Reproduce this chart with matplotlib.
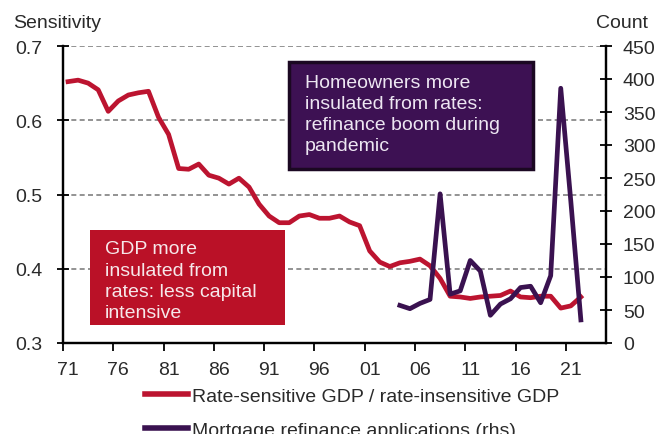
import matplotlib
matplotlib.use("Agg")
import matplotlib.pyplot as plt
import numpy as np

plt.rcParams['font.family'] = ['Liberation Sans', 'DejaVu Sans']

# Rate-sensitive GDP / rate-insensitive GDP (lhs), annual 1971-2022
gdp_years = list(range(1971, 2023))
gdp_ratio = [0.652, 0.654, 0.650, 0.641, 0.612, 0.626, 0.634, 0.637, 0.639, 0.604,
             0.581, 0.535, 0.534, 0.541, 0.526, 0.522, 0.514, 0.522, 0.510, 0.487,
             0.471, 0.462, 0.462, 0.471, 0.473, 0.468, 0.468, 0.471, 0.463, 0.458,
             0.424, 0.409, 0.403, 0.408, 0.410, 0.413, 0.404, 0.387, 0.363, 0.362,
             0.360, 0.362, 0.363, 0.364, 0.370, 0.362, 0.361, 0.363, 0.363, 0.347,
             0.350, 0.362]

# Mortgage refinance applications (rhs), annual 2004-2022
refi_years = list(range(2004, 2023))
refi_count = [57, 52, 60, 66, 226, 74, 79, 125, 109, 42, 59, 67, 84, 86, 61, 102,
              386, 215, 35]

tick_labels = ['71', '76', '81', '86', '91', '96', '01', '06', '11', '16', '21']
tick_years = [1971, 1976, 1981, 1986, 1991, 1996, 2001, 2006, 2011, 2016, 2021]

RED = '#BC1430'
PURPLE = '#3A1250'
TXT = '#2a2a2a'
FS = 14

fig = plt.figure(figsize=(6.68, 4.35), dpi=100)
ax = fig.add_axes([63 / 668, 1 - 344 / 435, (606 - 63) / 668, (344 - 47) / 435])
ax2 = ax.twinx()

ax.plot(gdp_years, gdp_ratio, color=RED, lw=3.4, solid_joinstyle='round', zorder=3)
ax2.plot(refi_years, refi_count, color=PURPLE, lw=3.4, solid_joinstyle='round', zorder=3)

ax.set_xlim(1970.5, 2024.5)
ax.set_ylim(0.3, 0.7)
ax2.set_ylim(0, 450)
ax.set_yticks([0.3, 0.4, 0.5, 0.6, 0.7])
ax.set_yticklabels(['0.3', '0.4', '0.5', '0.6', '0.7'])
ax2.set_yticks(range(0, 451, 50))

# category-style x axis: tick marks on band edges, labels on band centres
ax.set_xticks([y - 0.5 for y in tick_years])
ax.set_xticklabels([])
ax.set_xticks(tick_years, minor=True)
ax.set_xticklabels(tick_labels, minor=True)
ax.tick_params(axis='x', which='major', length=6, width=1.3, color='black', direction='out')
ax.tick_params(axis='x', which='minor', length=0, labelsize=FS, pad=13, labelcolor=TXT)
ax.tick_params(axis='y', length=8, width=1.3, direction='inout', labelsize=FS, pad=11,
               labelcolor=TXT)
ax2.tick_params(axis='y', length=8, width=1.3, direction='inout', labelsize=FS, pad=8.2,
                labelcolor=TXT)

ax.yaxis.grid(True, linestyle=(0, (3, 2)), color='#808080', lw=1.2)
ax.set_axisbelow(True)
for a in (ax, ax2):
    a.spines['top'].set_visible(False)
    for s in ('left', 'right', 'bottom'):
        a.spines[s].set_linewidth(1.6)
        a.spines[s].set_color('black')

fig.text(13 / 668, 1 - 23 / 435, 'Sensitivity', fontsize=14, va='center', ha='left',
         color=TXT)
fig.text(648 / 668, 1 - 23 / 435, 'Count', fontsize=14, va='center', ha='right',
         color=TXT)

# annotation boxes
box_p = matplotlib.patches.Rectangle((289 / 668, 1 - 170 / 435), (533 - 289) / 668,
                                     (170 - 63) / 435, transform=fig.transFigure,
                                     facecolor='#3D1153', edgecolor='#1B0822', lw=2.5,
                                     zorder=5)
fig.add_artist(box_p)
fig.text(305 / 668, 1 - 75 / 435,
         'Homeowners more\ninsulated from rates:\nrefinance boom during\npandemic',
         fontsize=FS, color='#EDE6F2', va='top', ha='left', linespacing=1.32, zorder=6)

box_r = matplotlib.patches.Rectangle((90 / 668, 1 - 326 / 435), (285 - 90) / 668,
                                     (326 - 231) / 435, transform=fig.transFigure,
                                     facecolor='#BA1127', edgecolor='none', zorder=5)
fig.add_artist(box_r)
fig.text(105 / 668, 1 - 241.5 / 435,
         'GDP more\ninsulated from\nrates: less capital\nintensive',
         fontsize=FS, color='#F6E8EA', va='top', ha='left', linespacing=1.32, zorder=6)

handles = [matplotlib.lines.Line2D([], [], color=RED, lw=4),
           matplotlib.lines.Line2D([], [], color=PURPLE, lw=4)]
fig.legend(handles, ['Rate-sensitive GDP / rate-insensitive GDP',
                     'Mortgage refinance applications (rhs)'],
           loc='upper left', bbox_to_anchor=(145 / 668, 1 - 388 / 435), frameon=False,
           borderpad=0, borderaxespad=0, handlelength=2.2, handletextpad=0.2,
           labelspacing=0.85, fontsize=FS, labelcolor=TXT)

fig.savefig('out.png', dpi=100)
